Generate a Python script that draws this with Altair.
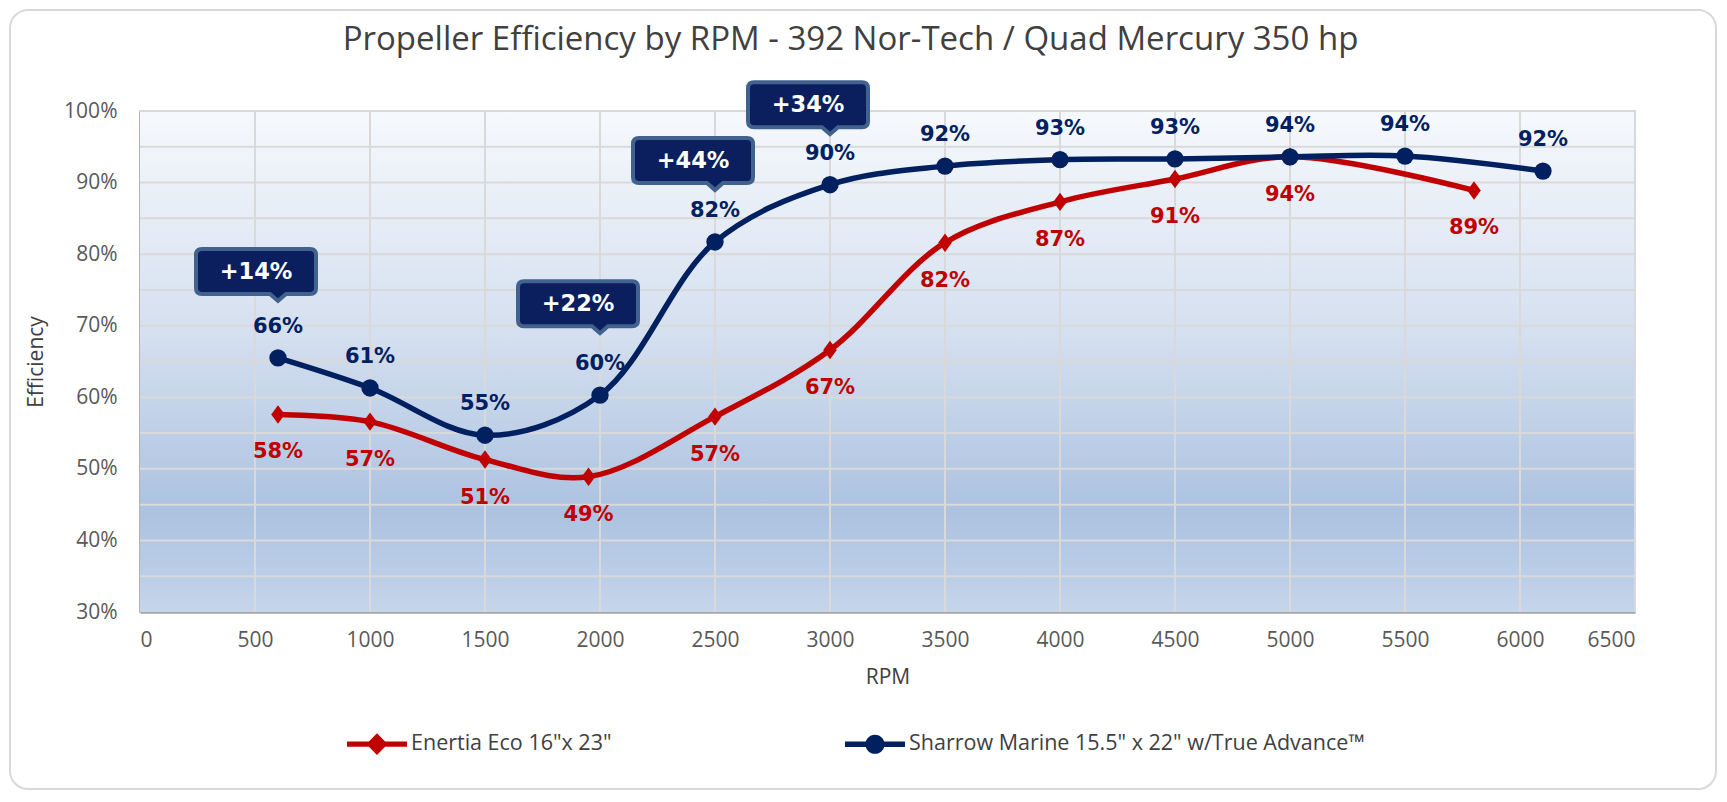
import altair as alt
import pandas as pd

# ---------------- data ----------------
enertia_rpm = [600, 1000, 1500, 1950, 2500, 3000, 3500, 4000, 4500, 5000, 5800]
enertia_eff = [57.6, 56.6, 51.3, 48.9, 57.3, 66.6, 81.6, 87.3, 90.5, 93.6, 88.9]

sharrow_rpm = [600, 1000, 1500, 2000, 2500, 3000, 3500, 4000, 4500, 5000, 5500, 6100]
sharrow_eff = [65.5, 61.3, 54.7, 60.3, 81.7, 89.7, 92.3, 93.2, 93.3, 93.6, 93.7, 91.6]

callout_rpm = [600, 2000, 2500, 3000]
callout_tip = [73.6, 69.1, 89.1, 96.9]
callout_text = ["+14%", "+22%", "+44%", "+34%"]

series_names = ['Enertia Eco 16"x 23"', 'Sharrow Marine 15.5" x 22" w/True Advance\u2122']
series_colors = ["#c00000", "#002060"]

x_ticks = list(range(0, 6501, 500))
y_ticks = list(range(30, 101, 5))

# ---------------- frames ----------------
df = pd.concat([
    pd.DataFrame({"rpm": enertia_rpm, "eff": enertia_eff, "series": series_names[0]}),
    pd.DataFrame({"rpm": sharrow_rpm, "eff": sharrow_eff, "series": series_names[1]}),
], ignore_index=True)
callouts = pd.DataFrame({"rpm": callout_rpm, "tip": callout_tip, "txt": callout_text})
xgrid = pd.DataFrame({"rpm": x_ticks})
ygrid = pd.DataFrame({"eff": y_ticks})

W, H = 1495, 501
PAD_L, PAD_T, PAD_R, PAD_B = 132, 103, 84, 180

xs = alt.Scale(domain=[0, 6500], nice=False)
ys = alt.Scale(domain=[30, 100], nice=False)

X = alt.X("rpm:Q", scale=xs, axis=alt.Axis(
    values=x_ticks, format="d", labelOverlap=False, title="RPM", titleX=W / 2, titleY=65,
    titleBaseline="middle", titleAlign="center"))
Y = alt.Y("eff:Q", scale=ys, axis=alt.Axis(
    values=y_ticks, labelExpr="datum.value + '%'", labelOverlap=False, title="Efficiency",
    titleX=-104, titleY=H / 2, titleBaseline="middle", titleAlign="center"))

base = alt.Chart(df)
red = base.transform_filter(alt.datum.series == series_names[0])
blue = base.transform_filter(alt.datum.series == series_names[1])

# plot background gradient
bg = alt.Chart(pd.DataFrame({"a": [0]})).mark_rect(
    color={"gradient": "linear", "x1": 0, "y1": 0, "x2": 0, "y2": 1,
           "stops": [{"offset": 0, "color": "#f6f9fd"},
                     {"offset": 0.45, "color": "#d4dfef"},
                     {"offset": 0.8, "color": "#acc2e0"},
                     {"offset": 1, "color": "#c5d5eb"}]}).encode(
    x=alt.value(0), x2=alt.value(W), y=alt.value(0), y2=alt.value(H))

# gridlines from tick values
vgrid = alt.Chart(xgrid).transform_filter("datum.rpm > 0").mark_rule(
    color="#d9d9d9", strokeWidth=2).encode(x=alt.X("rpm:Q", scale=xs))
hgrid = alt.Chart(ygrid).transform_filter("datum.eff > 30").mark_rule(
    color="#d9d9d9", strokeWidth=2).encode(y=alt.Y("eff:Q", scale=ys))

red_line = red.mark_line(color=series_colors[0], strokeWidth=5.5, interpolate="catmull-rom").encode(x=X, y=Y)
blue_line = blue.mark_line(color=series_colors[1], strokeWidth=5.5, interpolate="catmull-rom").encode(x=X, y=Y)

diamond = "M0,-1.15 L0.85,0 L0,1.15 L-0.85,0 Z"
red_pts = red.mark_point(shape=diamond, filled=True, size=256, color=series_colors[0], opacity=1).encode(x=X, y=Y)
blue_pts = blue.mark_point(shape="circle", filled=True, size=300, color=series_colors[1], opacity=1).encode(x=X, y=Y)

red_lbl = red.transform_calculate(lbl="format(datum.eff, '.0f') + '%'").mark_text(
    font="DejaVu Sans", fontWeight="bold", fontSize=21, color=series_colors[0], dy=38,
    baseline="middle").encode(x=X, y=Y, text="lbl:N")
blue_lbl = blue.transform_calculate(lbl="format(datum.eff, '.0f') + '%'").mark_text(
    font="DejaVu Sans", fontWeight="bold", fontSize=21, color=series_colors[1], dy=-31,
    baseline="middle").encode(x=X, y=Y, text="lbl:N")

# callout boxes (pixel-unit path, origin at pointer tip; size=4 -> scale 1)
callout_path = ("M-76,-51 H32 Q38,-51 38,-45 V-12 Q38,-6 32,-6 H8 L0,1 L-8,-6 H-76 "
                "Q-82,-6 -82,-12 V-45 Q-82,-51 -76,-51 Z")
cX = alt.X("rpm:Q", scale=xs)
cY = alt.Y("tip:Q", scale=ys)
call_box = alt.Chart(callouts).mark_point(shape=callout_path, size=4, filled=True, fill="#0b1f5e",
                                          stroke="#41618f", strokeWidth=4, opacity=1,
                                          fillOpacity=1, strokeOpacity=1).encode(x=cX, y=cY)
call_txt = alt.Chart(callouts).mark_text(font="DejaVu Sans", fontWeight="bold", fontSize=22.5,
                                         color="white", dx=-22, dy=-28, baseline="middle").encode(
    x=cX, y=cY, text="txt:N")

# legend carrier (invisible points, legend symbols are line+marker paths)
leg_red = "M-1,-0.09 H-0.27 L0,-0.36 L0.27,-0.09 H1 V0.09 H0.27 L0,0.36 L-0.27,0.09 H-1 Z"
leg_blue = ("M-1,-0.09 H-0.307 A0.32,0.32 0 0,1 0.307,-0.09 H1 V0.09 H0.307 "
            "A0.32,0.32 0 0,1 -0.307,0.09 H-1 Z")
legend_layer = base.mark_point(filled=True, opacity=0).encode(
    x=X, y=Y,
    color=alt.Color("series:N", scale=alt.Scale(domain=series_names, range=series_colors),
                    legend=alt.Legend(title=None, orient="none", direction="horizontal",
                                      legendX=207, legendY=H + 102, symbolSize=3600,
                                      symbolStrokeWidth=0, symbolOpacity=1, labelOffset=4,
                                      columnPadding=233, labelFont="Open Sans", labelFontSize=21.5,
                                      labelColor="#404040", padding=0, labelLimit=0)),
    shape=alt.Shape("series:N", scale=alt.Scale(domain=series_names, range=[leg_red, leg_blue]),
                    legend=None),
)

# outer rounded frame
frame = alt.Chart(pd.DataFrame({"a": [0]})).mark_rect(
    fill="transparent", stroke="#d9d9d9", strokeWidth=2, cornerRadius=18).encode(
    x=alt.value(-PAD_L + 2), x2=alt.value(W + PAD_R - 3),
    y=alt.value(-PAD_T + 2), y2=alt.value(H + PAD_B - 3))

chart = alt.layer(
    frame, bg, vgrid, hgrid, legend_layer, red_line, blue_line, red_pts, blue_pts,
    red_lbl, blue_lbl, call_box, call_txt
).properties(
    width=W, height=H,
    padding={"left": PAD_L, "top": PAD_T, "right": PAD_R, "bottom": PAD_B},
    autosize=alt.AutoSizeParams(type="none"),
    background="white",
    title=alt.TitleParams(
        'Propeller Efficiency by RPM - 392 Nor-Tech / Quad Mercury 350 hp',
        anchor="middle", dx=-37, dy=74, fontSize=33, font="Open Sans", fontWeight="normal",
        color="#404040", baseline="alphabetic", offset=0),
).configure_view(
    stroke="#d9d9d9", strokeWidth=2,
).configure_axis(
    grid=False, ticks=False, tickSize=0,
    domainColor="#a6a6a6", domainWidth=2.5,
    labelFont="Open Sans", labelFontSize=21, labelColor="#595959",
    titleFont="Open Sans", titleFontSize=21, titleColor="#404040", titleFontWeight="normal",
).configure_axisX(labelPadding=17).configure_axisY(labelPadding=23)

chart.save("out.html", embed_options={"renderer": "svg", "actions": False})
